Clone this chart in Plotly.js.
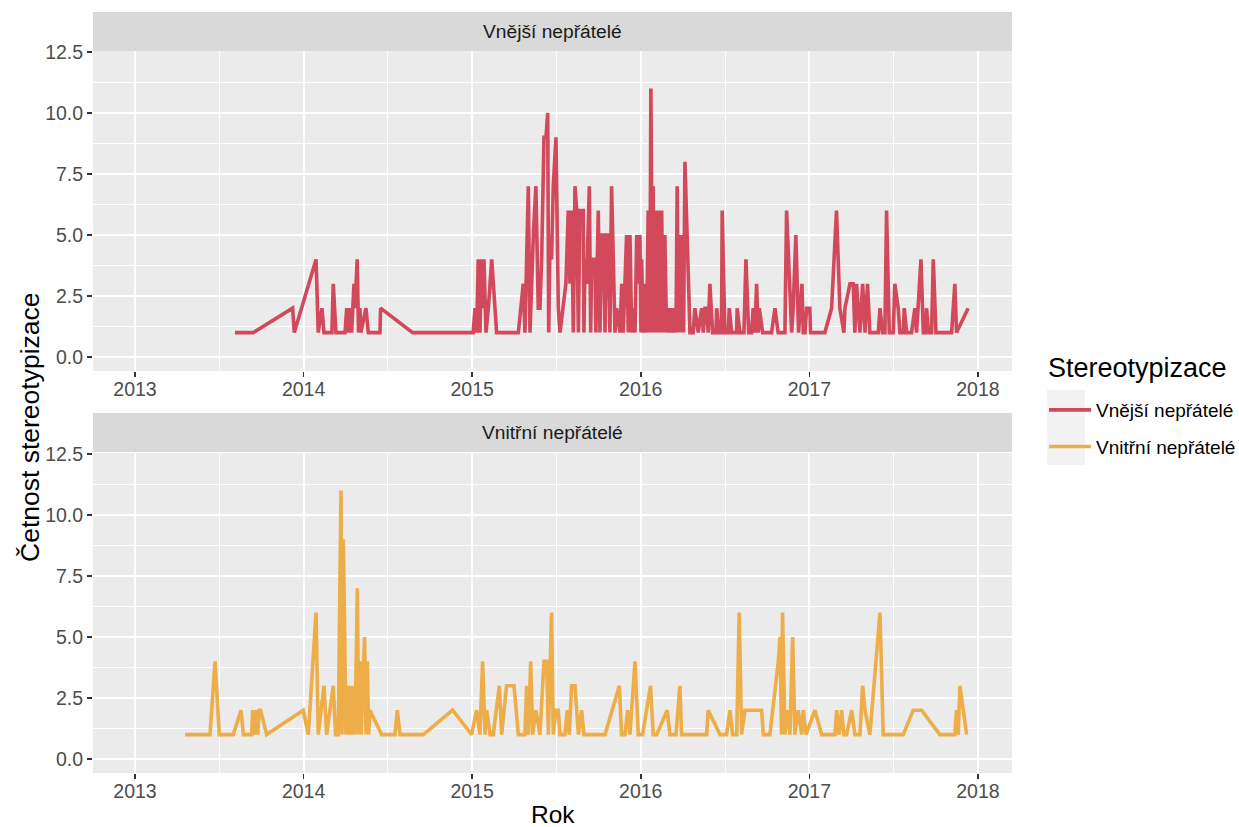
<!DOCTYPE html>
<html>
<head>
<meta charset="utf-8">
<script src="https://cdn.plot.ly/plotly-3.0.1.min.js"></script>
<style>
html,body{margin:0;padding:0;background:#fff;}
#chart{width:1239px;height:827px;}
</style>
</head>
<body>
<div id="chart"></div>
<script>
// Vnější nepřátelé (decimal year, count)
const outerYear = [
2013.593,2013.702,2013.935,2013.945,2014.074,2014.087,2014.109,2014.121,2014.168,2014.176,
2014.192,2014.246,2014.256,2014.265,2014.275,2014.285,2014.299,2014.305,2014.318,2014.326,
2014.334,2014.340,2014.370,2014.384,2014.453,2014.457,2014.647,2015.006,2015.017,2015.027,
2015.036,2015.046,2015.056,2015.062,2015.070,2015.082,2015.096,2015.116,2015.145,2015.274,
2015.303,2015.313,2015.333,2015.343,2015.363,2015.378,2015.392,2015.402,2015.412,2015.426,
2015.438,2015.448,2015.454,2015.462,2015.471,2015.481,2015.497,2015.511,2015.521,2015.541,
2015.556,2015.570,2015.580,2015.590,2015.600,2015.610,2015.620,2015.630,2015.639,2015.659,
2015.663,2015.669,2015.679,2015.695,2015.703,2015.709,2015.728,2015.734,2015.748,2015.758,
2015.768,2015.778,2015.788,2015.798,2015.807,2015.817,2015.827,2015.837,2015.847,2015.857,
2015.877,2015.887,2015.896,2015.916,2015.926,2015.936,2015.946,2015.956,2015.966,2015.976,
2015.985,2015.995,2016.001,2016.005,2016.015,2016.025,2016.035,2016.044,2016.054,2016.060,
2016.070,2016.074,2016.078,2016.084,2016.094,2016.104,2016.114,2016.124,2016.133,2016.143,
2016.153,2016.163,2016.173,2016.183,2016.193,2016.203,2016.209,2016.216,2016.224,2016.232,
2016.240,2016.248,2016.254,2016.262,2016.276,2016.292,2016.311,2016.321,2016.341,2016.361,
2016.371,2016.381,2016.390,2016.400,2016.410,2016.426,2016.446,2016.450,2016.466,2016.479,
2016.483,2016.499,2016.519,2016.525,2016.539,2016.568,2016.572,2016.588,2016.612,2016.624,
2016.640,2016.657,2016.667,2016.677,2016.687,2016.697,2016.703,2016.723,2016.776,2016.796,
2016.815,2016.855,2016.865,2016.885,2016.895,2016.904,2016.920,2016.936,2016.956,2016.964,
2016.974,2016.984,2017.003,2017.007,2017.092,2017.132,2017.161,2017.181,2017.205,2017.211,
2017.241,2017.260,2017.270,2017.280,2017.300,2017.316,2017.330,2017.345,2017.359,2017.409,
2017.419,2017.434,2017.448,2017.458,2017.474,2017.498,2017.507,2017.527,2017.537,2017.557,
2017.563,2017.577,2017.606,2017.626,2017.636,2017.662,2017.676,2017.691,2017.695,2017.707,
2017.725,2017.735,2017.751,2017.844,2017.863,2017.873,2017.942
];
const outerCount = [
1,1,2,1,4,1,2,1,1,3,
1,1,2,1,2,1,3,2,4,1,
2,1,2,1,1,2,1,1,2,1,
4,1,4,2,4,1,2,4,1,1,
3,1,7,1,5,7,2,2,4,9,
9,10,1,5,4,7,9,2,1,2,
3,6,3,6,1,7,6,1,6,6,
1,4,3,7,1,4,4,1,6,1,
5,5,1,5,5,1,7,4,1,2,
1,3,1,5,1,5,1,2,1,5,
3,5,1,4,1,3,1,6,1,11,
1,7,1,6,1,6,1,6,1,5,
1,2,1,2,1,2,1,7,1,5,
1,5,1,8,5,1,1,2,1,2,
1,2,2,1,3,1,1,2,1,1,
6,1,1,2,1,1,2,1,1,4,
1,1,2,1,3,1,2,1,1,2,
1,1,6,2,1,2,5,1,3,1,
1,2,2,1,1,2,6,2,1,2,
3,3,1,3,1,3,1,3,1,1,
2,1,1,6,1,1,3,2,1,1,
2,1,1,2,1,4,1,1,2,1,
1,4,1,1,3,1,2
];

// Vnitřní nepřátelé (decimal year, count)
const innerYear = [
2013.297,2013.445,2013.475,2013.500,2013.583,2013.629,2013.643,2013.692,2013.698,2013.706,
2013.718,2013.728,2013.737,2013.745,2013.781,2013.998,2014.028,2014.074,2014.087,2014.121,
2014.137,2014.176,2014.190,2014.206,2014.212,2014.222,2014.228,2014.236,2014.244,2014.251,
2014.259,2014.267,2014.275,2014.285,2014.295,2014.305,2014.319,2014.327,2014.334,2014.342,
2014.350,2014.362,2014.370,2014.378,2014.386,2014.394,2014.463,2014.542,2014.556,2014.572,
2014.710,2014.884,2014.997,2015.026,2015.046,2015.062,2015.076,2015.086,2015.106,2015.125,
2015.161,2015.175,2015.204,2015.234,2015.248,2015.274,2015.313,2015.323,2015.333,2015.347,
2015.359,2015.378,2015.402,2015.426,2015.442,2015.452,2015.471,2015.481,2015.497,2015.511,
2015.521,2015.550,2015.564,2015.576,2015.590,2015.610,2015.630,2015.649,2015.663,2015.788,
2015.873,2015.886,2015.906,2015.922,2015.936,2015.946,2015.966,2015.985,2016.011,2016.058,
2016.074,2016.094,2016.157,2016.173,2016.209,2016.232,2016.242,2016.391,2016.400,2016.470,
2016.509,2016.529,2016.545,2016.569,2016.584,2016.598,2016.618,2016.717,2016.727,2016.766,
2016.816,2016.826,2016.835,2016.841,2016.855,2016.869,2016.885,2016.901,2016.914,2016.934,
2016.954,2016.964,2016.980,2017.033,2017.073,2017.152,2017.162,2017.177,2017.191,2017.205,
2017.221,2017.251,2017.270,2017.300,2017.316,2017.330,2017.359,2017.419,2017.438,2017.557,
2017.616,2017.666,2017.774,2017.863,2017.873,2017.883,2017.893,2017.913,2017.933
];
const innerCount = [
1,1,4,1,1,2,1,1,2,1,
2,1,2,2,1,2,1,6,1,3,
1,3,1,1,5,11,1,9,5,1,
3,1,3,1,3,1,7,1,4,1,
3,5,1,4,1,2,1,1,2,1,
1,2,1,2,1,4,1,2,1,1,
3,1,3,3,3,1,1,3,1,4,
1,2,1,4,4,1,6,1,2,2,
1,1,2,1,3,3,1,2,1,1,
3,1,1,2,1,2,4,1,1,3,
1,1,2,1,1,3,1,1,2,1,
1,2,1,1,6,1,2,2,1,1,
4,5,1,6,1,2,1,5,1,2,
1,2,1,2,1,1,2,1,2,1,
1,2,1,1,3,2,1,6,1,1,
2,2,1,1,2,1,3,2,1
];

const seriesNames = ['Vnější nepřátelé', 'Vnitřní nepřátelé'];
const seriesColors = ['#D1495B', '#EDAE49'];
const legendTitle = 'Stereotypizace';
const yearTicks = [2013, 2014, 2015, 2016, 2017, 2018];
const yearMinor = [2013.5, 2014.5, 2015.5, 2016.5, 2017.5];
const countTicks = [0, 2.5, 5, 7.5, 10, 12.5];
const countTickText = ['0.0', '2.5', '5.0', '7.5', '10.0', '12.5'];
const countMinor = [1.25, 3.75, 6.25, 8.75, 11.25];

const FONT = 'Liberation Sans, Arial, sans-serif';
const SMALL = 19.5;

const traces = [
  {x: outerYear, y: outerCount, xaxis: 'x2', yaxis: 'y2', type: 'scatter', mode: 'lines',
   name: seriesNames[0], legendgroup: 'a', line: {color: seriesColors[0], width: 3.6}},
  {x: innerYear, y: innerCount, xaxis: 'x', yaxis: 'y', type: 'scatter', mode: 'lines',
   name: seriesNames[1], legendgroup: 'b', line: {color: seriesColors[1], width: 3.6}}
];

const xCommon = {
  range: [2012.751, 2018.202],
  tickmode: 'array', tickvals: yearTicks, ticktext: yearTicks.map(String),
  ticks: 'outside', ticklen: 5, tickwidth: 1.6, tickcolor: '#333333',
  ticklabelstandoff: -4,
  showgrid: true, gridcolor: '#FFFFFF', gridwidth: 2,
  minor: {tickmode: 'array', tickvals: yearMinor, showgrid: true, gridcolor: '#FFFFFF', gridwidth: 1},
  zeroline: false, showline: false,
  tickfont: {family: FONT, size: SMALL, color: '#4D4D4D'},
  fixedrange: true
};
const yCommon = {
  range: [-0.574, 12.54],
  tickmode: 'array', tickvals: countTicks, ticktext: countTickText,
  ticks: 'outside', ticklen: 5, tickwidth: 1.6, tickcolor: '#333333',
  showgrid: true, gridcolor: '#FFFFFF', gridwidth: 2,
  minor: {tickmode: 'array', tickvals: countMinor, showgrid: true, gridcolor: '#FFFFFF', gridwidth: 1},
  zeroline: false, showline: false,
  tickfont: {family: FONT, size: SMALL, color: '#4D4D4D'},
  fixedrange: true
};

const botTop = (773 - 453) / 722;
const topBot = (773 - 371) / 722;

const layout = {
  width: 1239, height: 827,
  margin: {l: 93, r: 227, t: 51, b: 54},
  paper_bgcolor: '#FFFFFF',
  plot_bgcolor: '#EBEBEB',
  font: {family: FONT, color: '#000000'},
  xaxis: Object.assign({}, xCommon, {anchor: 'y', domain: [0, 1]}),
  yaxis: Object.assign({}, yCommon, {anchor: 'x', domain: [0, botTop]}),
  xaxis2: Object.assign({}, xCommon, {anchor: 'y2', domain: [0, 1]}),
  yaxis2: Object.assign({}, yCommon, {anchor: 'x2', domain: [topBot, 1]}),
  showlegend: true,
  legend: {
    xref: 'container', yref: 'container',
    x: 1044 / 1239, xanchor: 'left', y: 1 - 391 / 827, yanchor: 'top',
    bgcolor: 'rgba(0,0,0,0)',
    font: {family: FONT, size: 19, color: '#000000'},
    traceorder: 'grouped', tracegroupgap: 9, itemwidth: 42
  },
  shapes: [
    {type: 'rect', xref: 'paper', yref: 'paper', x0: 0, x1: 1,
     y0: 1, y1: (773 - 12) / 722, fillcolor: '#D9D9D9', line: {width: 0}, layer: 'below'},
    {type: 'rect', xref: 'paper', yref: 'paper', x0: 0, x1: 1,
     y0: (773 - 452) / 722, y1: (773 - 413) / 722, fillcolor: '#D9D9D9', line: {width: 0}, layer: 'below'},
    {type: 'rect', xref: 'paper', yref: 'paper', x0: (1047 - 93) / 919, x1: (1085 - 93) / 919,
     y0: (773 - 465) / 722, y1: (773 - 390) / 722, fillcolor: '#F2F2F2', line: {width: 0}, layer: 'below'}
  ],
  annotations: [
    {text: seriesNames[0], xref: 'paper', yref: 'paper', x: 0.5, y: (773 - 31.5) / 722,
     xanchor: 'center', yanchor: 'middle', showarrow: false,
     font: {family: FONT, size: 19.2, color: '#1A1A1A'}},
    {text: seriesNames[1], xref: 'paper', yref: 'paper', x: 0.5, y: (773 - 432.5) / 722,
     xanchor: 'center', yanchor: 'middle', showarrow: false,
     font: {family: FONT, size: 19.2, color: '#1A1A1A'}},
    {text: legendTitle, xref: 'paper', yref: 'paper', x: (1046 - 93) / 919, y: (773 - 368) / 722,
     xanchor: 'left', yanchor: 'middle', showarrow: false,
     font: {family: FONT, size: 27, color: '#000000'}},
    {text: 'Rok', xref: 'paper', yref: 'paper', x: 0.5, y: (773 - 814) / 722,
     xanchor: 'center', yanchor: 'middle', showarrow: false,
     font: {family: FONT, size: 24.5, color: '#000000'}},
    {text: 'Četnost stereotypizace', xref: 'paper', yref: 'paper', x: (30 - 93) / 919, y: (773 - 427) / 722,
     xanchor: 'center', yanchor: 'middle', showarrow: false, textangle: -90,
     font: {family: FONT, size: 26.5, color: '#000000'}}
  ]
};

Plotly.newPlot('chart', traces, layout, {displayModeBar: false, staticPlot: true});
</script>
</body>
</html>
